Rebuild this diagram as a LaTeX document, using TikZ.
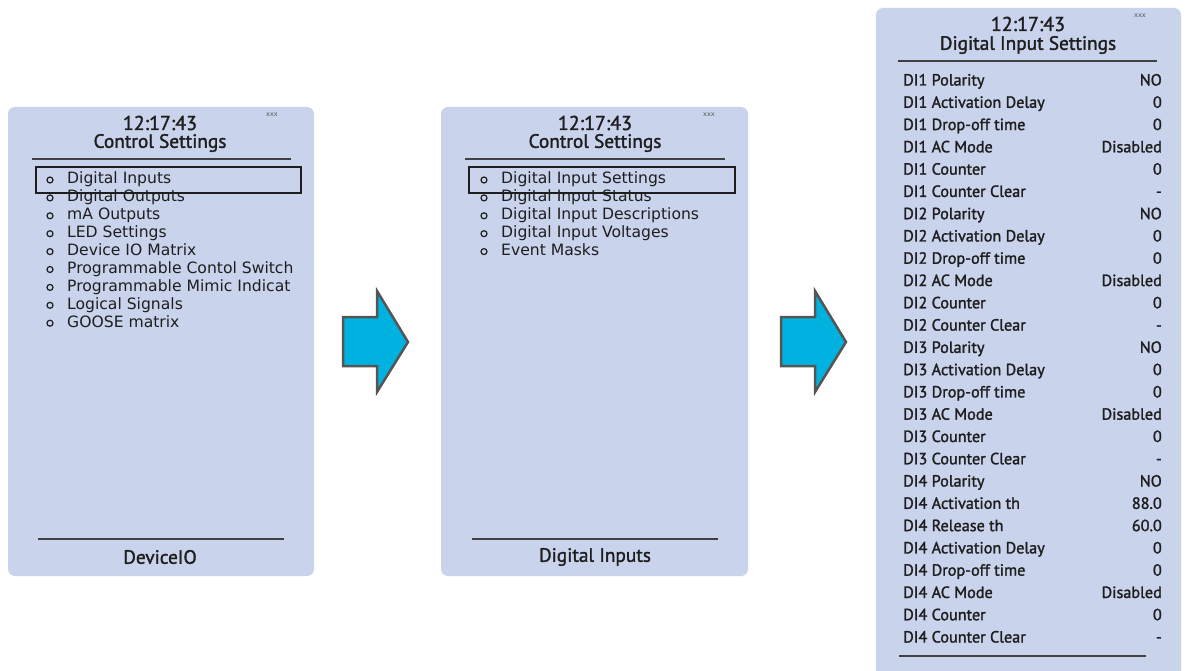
\documentclass[tikz,border=0pt]{standalone}
\usepackage{fontspec}
\setmainfont{PT Sans}[FakeBold=1.6,AutoFakeBold=1.6]
\newfontfamily\uifont{PT Sans}[FakeBold=1.6,AutoFakeBold=1.6]
\newfontfamily\menufont{DejaVu Sans}
\newfontfamily\smallfont{DejaVu Sans}
\definecolor{panelbg}{RGB}{201,211,236}
\definecolor{ink}{RGB}{30,30,30}
\definecolor{arrowfill}{RGB}{0,178,224}
\definecolor{arrowline}{RGB}{85,85,85}
\tikzset{
 panel/.style={fill=panelbg, rounded corners=7pt},
 rule/.style={draw=ink!85, line width=1.3pt},
 clock/.style={font=\uifont\bfseries\fontsize{20}{20}\selectfont, text=ink, inner sep=0},
 title/.style={font=\uifont\bfseries\fontsize{19.3}{19.3}\selectfont, text=ink, inner sep=0},
 tinytext/.style={font=\smallfont\fontsize{6.5}{6.5}\selectfont, text=ink!75, inner sep=0},
 item/.style={font=\menufont\fontsize{15.6}{15.6}\selectfont, text=ink, anchor=west, inner sep=0, text height=11pt, text depth=3pt},
 bullet/.style={circle, draw=ink, line width=1.2pt, minimum size=6pt, inner sep=0},
 selbox/.style={draw=ink, line width=1.5pt},
 rowlabel/.style={font=\uifont\bfseries\fontsize{16.2}{16.2}\selectfont, text=ink, anchor=west, inner sep=0, text height=12pt, text depth=3pt},
 rowvalue/.style={font=\uifont\bfseries\fontsize{16.2}{16.2}\selectfont, text=ink, anchor=east, inner sep=0, text height=12pt, text depth=3pt},
 bigarrow/.style={fill=arrowfill, draw=arrowline, line width=2.5pt, line join=miter}
}
\begin{document}
\begin{tikzpicture}[x=1pt,y=-1pt]
\useasboundingbox (0,0) rectangle (1186,671);
% ---------- panel 1
\fill[panel] (8,107) rectangle (314,576);
\node[clock] (p1time) at (160,123) {12:17:43};
\node[tinytext] (p1x) at (272,115) {xxx};
\node[title] (p1title) at (160,143) {Control Settings};
\coordinate (p1la) at (32,159); \coordinate (p1lb) at (291,159);
\draw[rule] (p1la) -- (p1lb);
\draw[selbox] (36,167) rectangle (301,193);
\foreach \t [count=\i] in {Digital Inputs,Digital Outputs,mA Outputs,LED Settings,Device IO Matrix,Programmable Contol Switch,Programmable Mimic Indicat,Logical Signals,GOOSE matrix}{
  \node[bullet] (p1b\i) at (50,{180+(\i-1)*17.9}) {};
  \node[item] (p1i\i) at (67,{180+(\i-1)*17.9}) {\t};
}
\coordinate (p1fa) at (38,539); \coordinate (p1fb) at (284,539);
\draw[rule] (p1fa) -- (p1fb);
\node[title] (p1foot) at (160,557) {DeviceIO};
% ---------- arrow 1
\draw[bigarrow] (343,317) -- (377,317) -- (377,291) -- (408,342) -- (377,392) -- (377,366) -- (343,366) -- cycle;
% ---------- panel 2
\fill[panel] (441,107) rectangle (748,576);
\node[clock] (p2time) at (595,123) {12:17:43};
\node[tinytext] (p2x) at (709,115) {xxx};
\node[title] (p2title) at (595,143) {Control Settings};
\coordinate (p2la) at (465,159); \coordinate (p2lb) at (725,159);
\draw[rule] (p2la) -- (p2lb);
\draw[selbox] (469,167) rectangle (735,193);
\foreach \t [count=\i] in {Digital Input Settings,Digital Input Status,Digital Input Descriptions,Digital Input Voltages,Event Masks}{
  \node[bullet] (p2b\i) at (484,{180+(\i-1)*17.9}) {};
  \node[item] (p2i\i) at (501,{180+(\i-1)*17.9}) {\t};
}
\coordinate (p2fa) at (472,539); \coordinate (p2fb) at (718,539);
\draw[rule] (p2fa) -- (p2fb);
\node[title] (p2foot) at (595,557) {Digital Inputs};
% ---------- arrow 2
\draw[bigarrow] (781,317) -- (815,317) -- (815,291) -- (846,342) -- (815,392) -- (815,366) -- (781,366) -- cycle;
% ---------- panel 3
\fill[panel] (876,8) rectangle (1181,678);
\node[clock] (p3time) at (1028,24) {12:17:43};
\node[tinytext] (p3x) at (1140,16) {xxx};
\node[title] (p3title) at (1028,45) {Digital Input Settings};
\coordinate (p3la) at (898,61); \coordinate (p3lb) at (1157,61);
\draw[rule] (p3la) -- (p3lb);
\foreach \l/\v [count=\i] in {
 DI1 Polarity/NO, DI1 Activation Delay/0, DI1 Drop-off time/0, DI1 AC Mode/Disabled, DI1 Counter/0, DI1 Counter Clear/-,
 DI2 Polarity/NO, DI2 Activation Delay/0, DI2 Drop-off time/0, DI2 AC Mode/Disabled, DI2 Counter/0, DI2 Counter Clear/-,
 DI3 Polarity/NO, DI3 Activation Delay/0, DI3 Drop-off time/0, DI3 AC Mode/Disabled, DI3 Counter/0, DI3 Counter Clear/-,
 DI4 Polarity/NO, DI4 Activation th/88.0, DI4 Release th/60.0, DI4 Activation Delay/0, DI4 Drop-off time/0, DI4 AC Mode/Disabled, DI4 Counter/0, DI4 Counter Clear/-}{
  \node[rowlabel] (r\i l) at (903,{81+(\i-1)*22.28}) {\l};
  \node[rowvalue] (r\i v) at (1162,{81+(\i-1)*22.28}) {\v};
}
\coordinate (p3fa) at (899,656); \coordinate (p3fb) at (1146,656);
\draw[rule] (p3fa) -- (p3fb);
\end{tikzpicture}
\end{document}
